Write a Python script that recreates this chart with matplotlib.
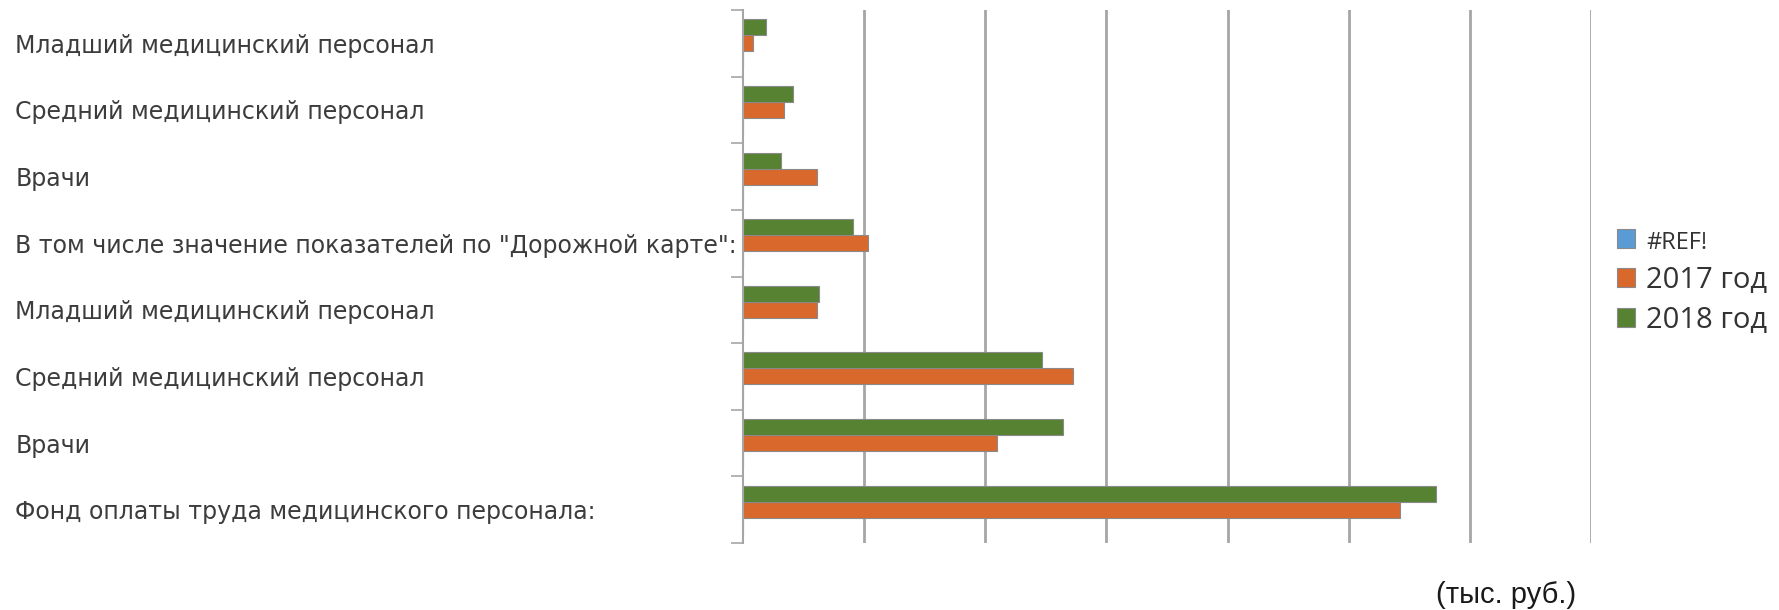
import numpy as np
import matplotlib
matplotlib.use("Agg")
import matplotlib.pyplot as plt

# categories, bottom to top (Excel order)
categories = [
    "Фонд оплаты труда медицинского персонала:",
    "Врачи",
    "Средний медицинский персонал",
    "Младший медицинский персонал",
    'В том числе значение показателей по "Дорожной карте":',
    "Врачи",
    "Средний медицинский персонал",
    "Младший медицинский персонал",
]
series_names = ["#REF!", "2017 год", "2018 год"]
vals_ref = [0, 0, 0, 0, 0, 0, 0, 0]
vals_2017 = [5.42, 2.10, 2.72, 0.61, 1.03, 0.61, 0.34, 0.08]
vals_2018 = [5.72, 2.64, 2.47, 0.63, 0.91, 0.31, 0.41, 0.19]
colors = ["#5B9BD5", "#D9682C", "#568232"]

fig = plt.figure(figsize=(17.79, 6.10), dpi=100)
ax = fig.add_axes([0.4177, 0.1098, 0.4766, 0.8738])

y = np.arange(len(categories))
h = 0.24
for k, (vals, name) in enumerate(zip([vals_ref, vals_2017, vals_2018], series_names)):
    ax.barh(y + (k - 1) * h, vals, height=h, color=colors[k], label=name,
            edgecolor="#8a8a8a", linewidth=0.8)

ax.set_xlim(0, 7)
ax.set_ylim(-0.5, len(categories) - 0.5)

# vertical gridlines
ax.set_xticks(np.arange(1, 8))
ax.xaxis.grid(True, color="#a6a6a6", linewidth=2)
ax.set_axisbelow(True)
ax.tick_params(axis="x", length=0, labelbottom=False)

# ticks at category boundaries, labels at category centres
ax.set_yticks(np.arange(-0.5, len(categories)), minor=False)
ax.set_yticks(y, minor=True)
ax.set_yticklabels([], minor=False)
ax.set_yticklabels(categories, minor=True, ha="left", fontsize=17,
                   color="#3c3c3c", family="DejaVu Sans")
ax.tick_params(axis="y", which="major", length=9, color="#a6a6a6", width=1.2)
ax.tick_params(axis="y", which="minor", length=0, pad=524)

for s in ["top", "right", "bottom"]:
    ax.spines[s].set_visible(False)
ax.spines["left"].set_color("#a6a6a6")
ax.spines["left"].set_linewidth(1.5)

leg = ax.legend(loc="center left", bbox_to_anchor=(1.0, 0.49), frameon=False,
                prop={"family": "Open Sans", "size": 21}, handlelength=0.6,
                handleheight=0.6, handletextpad=0.4, labelspacing=0.38)
for t in leg.get_texts():
    t.set_color("#333333")
leg.get_texts()[0].set_fontsize(17)

fig.text(0.8072, 0.0246, "(тыс. руб.)", fontsize=21, family="Liberation Sans",
         color="#1a1a1a", ha="left", va="center")

fig.savefig("out.png", dpi=100)
